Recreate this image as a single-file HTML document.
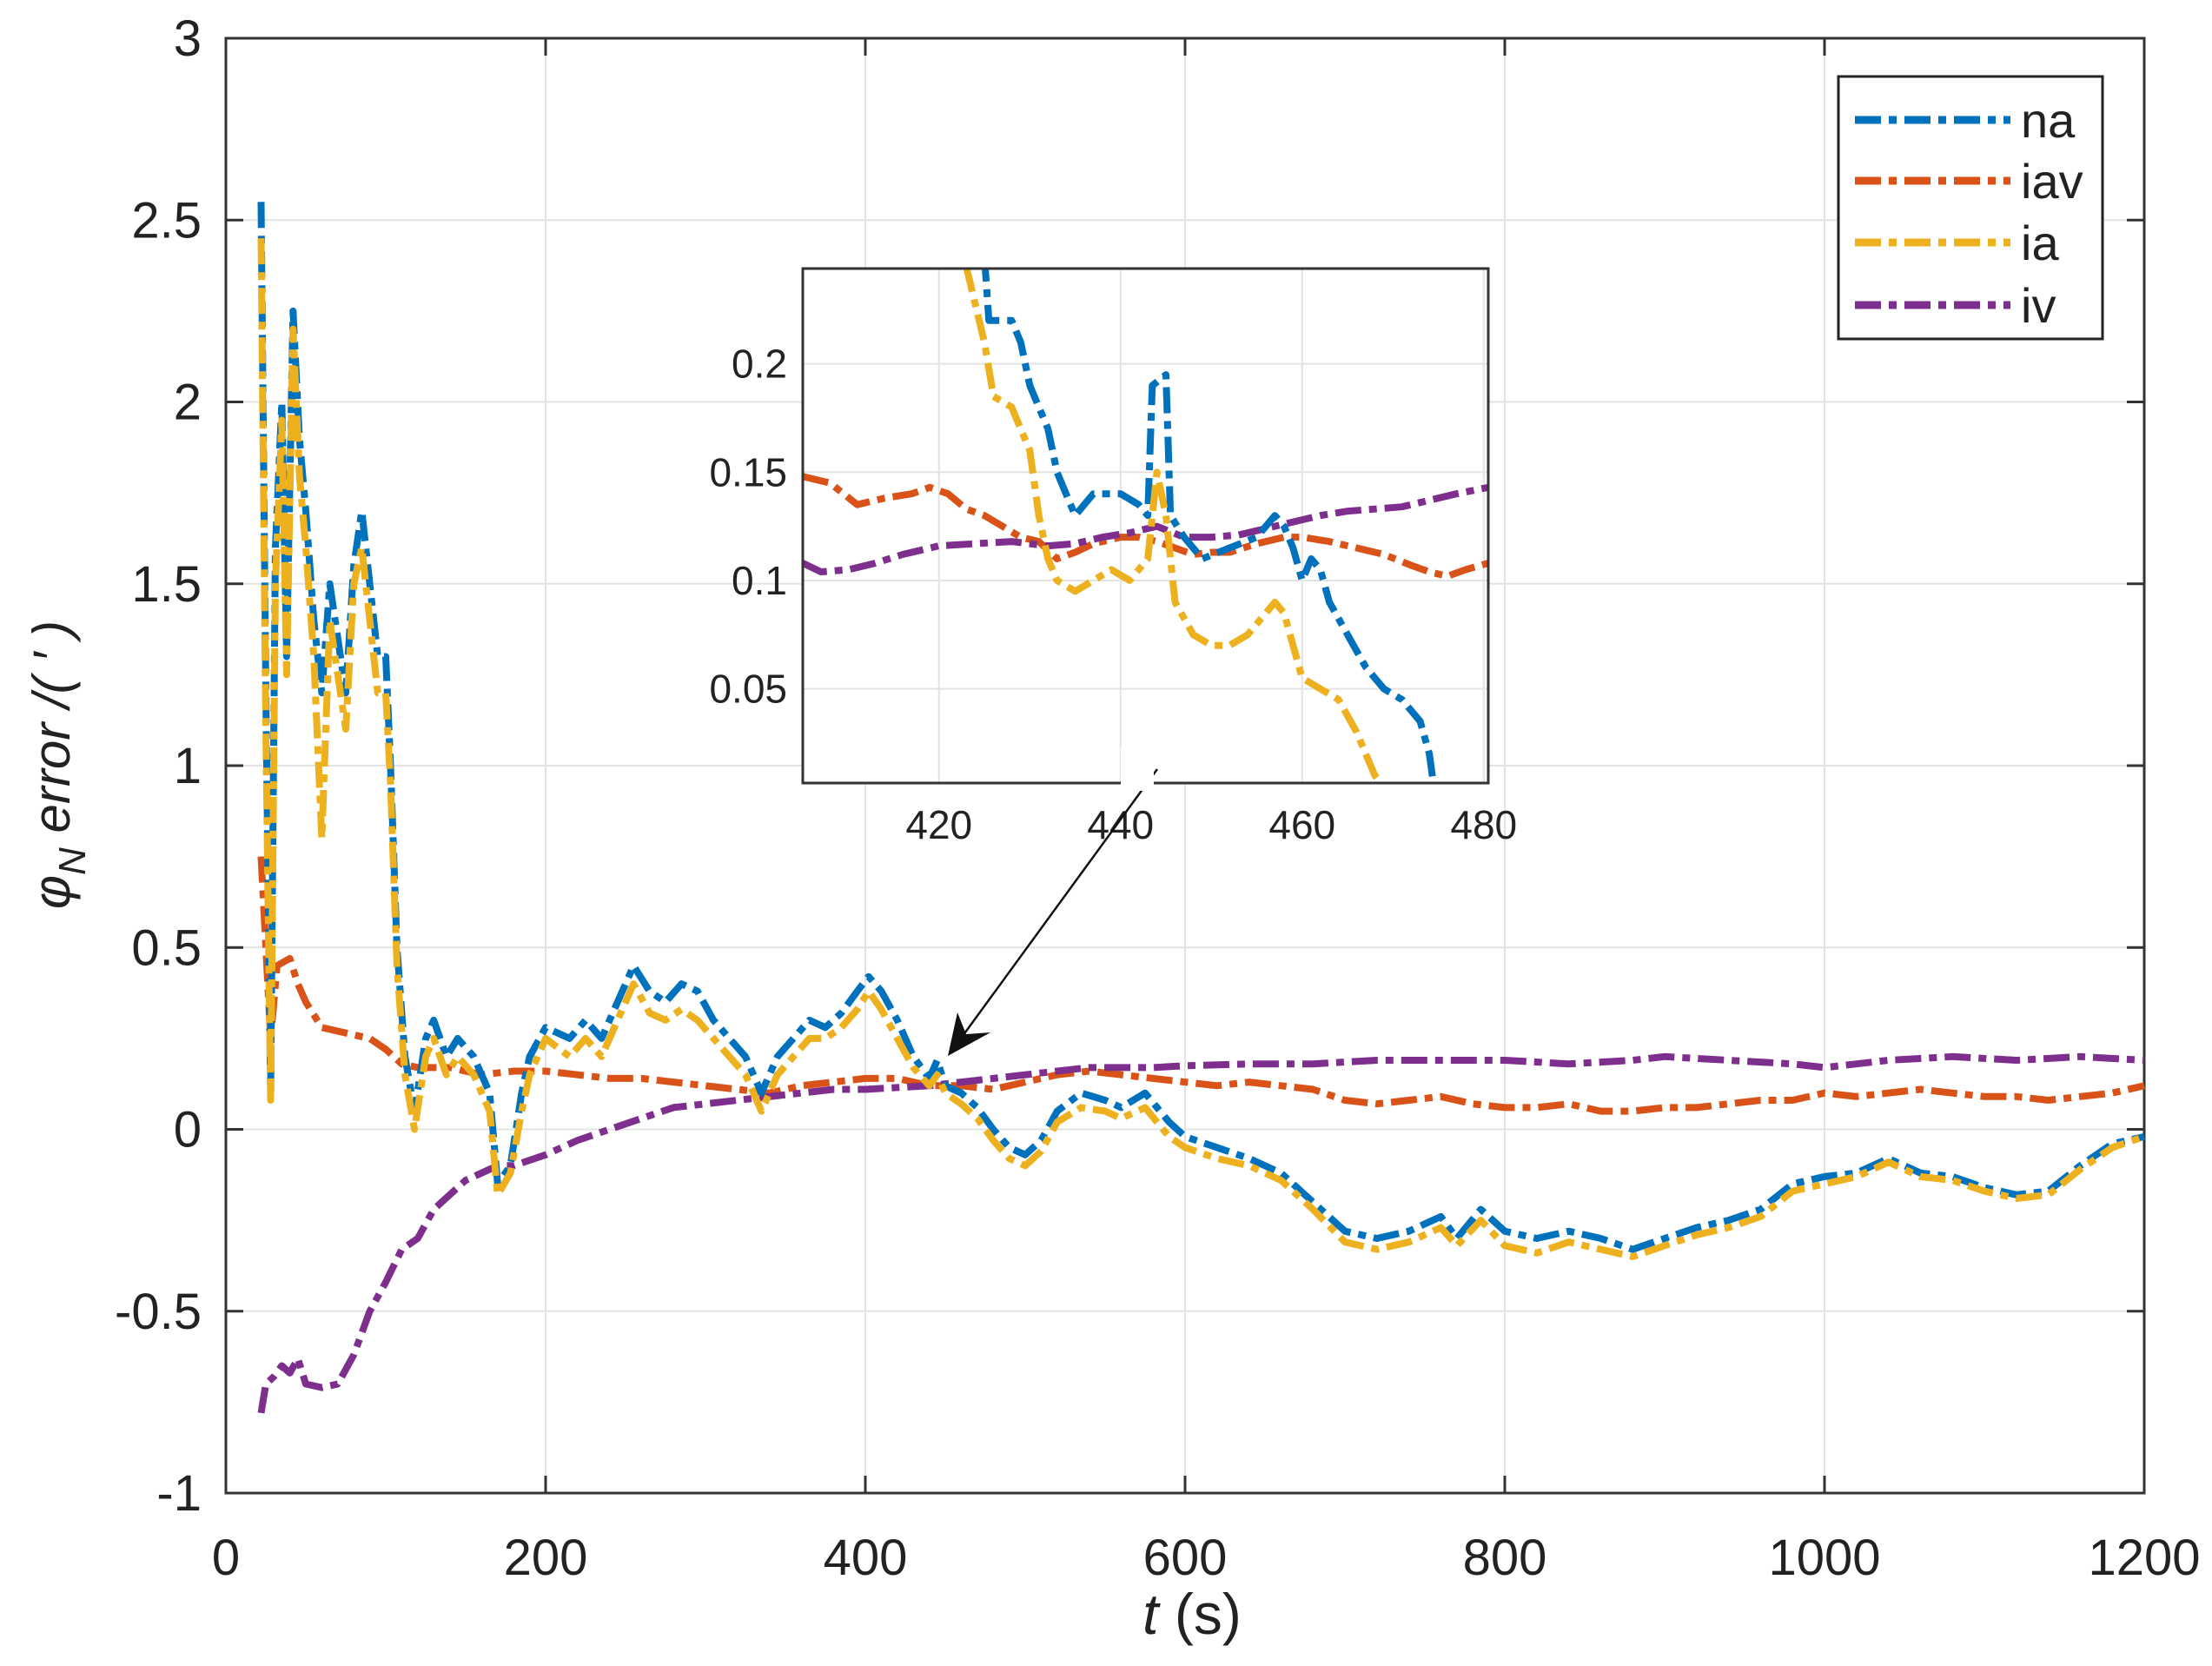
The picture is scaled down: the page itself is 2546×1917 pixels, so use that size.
<!DOCTYPE html>
<html><head><meta charset="utf-8"><style>
html,body{margin:0;padding:0;background:#fff;}
svg{display:block;font-family:"Liberation Sans",sans-serif;}
</style></head><body>
<svg id="chart" width="2546" height="1917" viewBox="0 0 2546 1917" xmlns="http://www.w3.org/2000/svg">
<rect width="2546" height="1917" fill="#fff"/>
<g id="main"></g>
<g id="inset"></g>
<g id="legend"></g>
</svg>
<script>
// ---- main chart data ----
const naT=[22,25,28,31,35,38,42,46,50,55,60,65,70,75,80,85,90,95,100,103,107,112,118,125,130,138,145,155,165,170,178,185,190,200,215,225,235,245,255,265,275,285,295,305,315,325,335,345,355,365,375,385,395,402,410,420,430,440,445,450,460,470,480,490,500,510,520,535,550,560,575,590,600,620,640,660,680,700,720,740,760,770,785,800,820,840,860,880,900,920,940,960,980,1000,1020,1040,1060,1080,1100,1120,1140,1160,1180,1200];
const naV=[2.55,1.2,0.1,1.6,2.0,1.3,2.25,1.9,1.7,1.4,1.2,1.5,1.35,1.2,1.55,1.7,1.5,1.3,1.3,1.0,0.5,0.2,0.05,0.25,0.3,0.2,0.25,0.2,0.1,-0.15,-0.1,0.1,0.2,0.28,0.25,0.3,0.25,0.35,0.45,0.38,0.35,0.4,0.38,0.3,0.25,0.2,0.1,0.2,0.25,0.3,0.28,0.32,0.38,0.42,0.38,0.3,0.2,0.14,0.19,0.12,0.1,0.06,0.0,-0.05,-0.07,-0.03,0.05,0.1,0.08,0.06,0.1,0.02,-0.02,-0.05,-0.08,-0.12,-0.2,-0.28,-0.3,-0.28,-0.24,-0.3,-0.22,-0.28,-0.3,-0.28,-0.3,-0.33,-0.3,-0.27,-0.25,-0.22,-0.15,-0.13,-0.12,-0.08,-0.12,-0.13,-0.16,-0.18,-0.17,-0.1,-0.04,-0.02];
const iaT=naT;
const iaV=[2.45,1.1,0.08,1.5,1.95,1.25,2.2,1.8,1.6,1.3,0.8,1.4,1.25,1.1,1.5,1.6,1.4,1.2,1.2,0.95,0.45,0.15,0.0,0.2,0.25,0.15,0.2,0.15,0.05,-0.18,-0.12,0.05,0.15,0.25,0.2,0.25,0.2,0.3,0.4,0.32,0.3,0.33,0.3,0.25,0.2,0.15,0.05,0.15,0.2,0.25,0.25,0.28,0.33,0.38,0.33,0.25,0.17,0.12,0.15,0.1,0.07,0.03,-0.03,-0.08,-0.1,-0.06,0.02,0.06,0.05,0.03,0.06,-0.02,-0.05,-0.08,-0.1,-0.14,-0.22,-0.31,-0.33,-0.31,-0.27,-0.32,-0.25,-0.32,-0.34,-0.31,-0.33,-0.35,-0.32,-0.29,-0.27,-0.24,-0.17,-0.15,-0.13,-0.09,-0.13,-0.14,-0.17,-0.19,-0.18,-0.11,-0.05,-0.02];
const iavT=[22,25,28,32,40,45,50,60,70,80,90,100,110,120,140,160,180,200,220,240,260,280,300,320,340,360,380,400,420,440,460,480,500,520,540,560,580,600,620,640,660,680,700,720,740,760,780,800,820,840,860,880,900,920,940,960,980,1000,1020,1040,1060,1080,1100,1120,1140,1160,1180,1200];
const iavV=[0.75,0.5,0.25,0.45,0.47,0.4,0.35,0.28,0.27,0.26,0.25,0.22,0.18,0.17,0.17,0.15,0.16,0.16,0.15,0.14,0.14,0.13,0.12,0.11,0.1,0.12,0.13,0.14,0.14,0.12,0.12,0.11,0.13,0.15,0.16,0.15,0.14,0.13,0.12,0.13,0.12,0.11,0.08,0.07,0.08,0.09,0.07,0.06,0.06,0.07,0.05,0.05,0.06,0.06,0.07,0.08,0.08,0.1,0.09,0.1,0.11,0.1,0.09,0.09,0.08,0.09,0.1,0.12];
const ivT=[22,25,30,35,40,45,50,60,70,80,90,100,110,120,130,140,150,160,170,180,200,220,240,260,280,300,320,340,360,380,400,420,440,460,480,500,520,540,560,580,600,640,680,720,760,800,840,880,900,940,980,1000,1040,1080,1120,1160,1200];
const ivV=[-0.78,-0.7,-0.68,-0.65,-0.67,-0.63,-0.7,-0.71,-0.7,-0.62,-0.5,-0.42,-0.33,-0.3,-0.22,-0.18,-0.14,-0.12,-0.1,-0.1,-0.07,-0.03,0.0,0.03,0.06,0.07,0.08,0.09,0.1,0.11,0.11,0.115,0.12,0.13,0.14,0.15,0.16,0.17,0.17,0.17,0.175,0.18,0.18,0.19,0.19,0.19,0.18,0.19,0.2,0.19,0.18,0.17,0.19,0.2,0.19,0.2,0.19];
const xTicks=[0,200,400,600,800,1000,1200];
const yTicks=[-1,-0.5,0,0.5,1,1.5,2,2.5,3];
// ---- inset data ----
const inNaT=[425,425.5,428,429,430,432,433,435,437,440,442,443,443.5,445,445.5,447,449,452,455,457,458,459,460,461,462,463,465,467,469,471,473,474,474.5,476];
const inNaV=[0.25,0.22,0.22,0.21,0.19,0.17,0.15,0.13,0.14,0.14,0.135,0.13,0.19,0.195,0.13,0.12,0.11,0.115,0.12,0.13,0.125,0.115,0.1,0.11,0.105,0.09,0.075,0.06,0.05,0.045,0.035,0.02,0.005,0.0];
const inIaT=[423,425,426,428,430,431,432,433,435,437,439,441,443,444,445,446,448,450,452,454,456,457,458,459,460,462,464,466,467,468,469,470];
const inIaV=[0.245,0.21,0.185,0.18,0.16,0.13,0.11,0.1,0.095,0.1,0.105,0.1,0.11,0.15,0.13,0.09,0.075,0.07,0.07,0.075,0.085,0.09,0.085,0.07,0.055,0.05,0.045,0.03,0.02,0.01,0.005,0.003];
const inIavT=[405,408,411,414,417,419,421,423,425,427,429,431,433,435,437,440,442,444,446,448,450,452,455,458,460,463,466,469,472,474,476,478,480.5];
const inIavV=[0.148,0.145,0.135,0.138,0.14,0.143,0.14,0.133,0.13,0.125,0.12,0.118,0.11,0.113,0.117,0.12,0.12,0.118,0.115,0.112,0.113,0.113,0.117,0.12,0.12,0.118,0.115,0.112,0.107,0.104,0.102,0.105,0.108];
const inIvT=[405,407,410,413,416,420,424,428,432,435,438,441,444,447,450,453,456,459,462,465,468,471,474,477,480.5];
const inIvV=[0.108,0.104,0.105,0.108,0.112,0.116,0.117,0.118,0.116,0.117,0.12,0.122,0.125,0.12,0.12,0.121,0.124,0.127,0.13,0.132,0.133,0.134,0.137,0.14,0.143];
const inXTicks=[420,440,460,480];
const inYTicks=[0.05,0.1,0.15,0.2];
const legendLabels=['na','iav','ia','iv'];

const NS='http://www.w3.org/2000/svg';
const COL={na:'#0072BD',iav:'#D95319',ia:'#EDB120',iv:'#7E2F8E'};
const DASH='30 9 9 9';
function mk(tag,attrs,parent){const e=document.createElementNS(NS,tag);for(const k in attrs)e.setAttribute(k,attrs[k]);parent.appendChild(e);return e;}

const M={l:260,r:2468,t:44,b:1718,x0:0,x1:1200,y0:-1,y1:3};
const X=t=>M.l+(t-M.x0)/(M.x1-M.x0)*(M.r-M.l);
const Y=v=>M.b-(v-M.y0)/(M.y1-M.y0)*(M.b-M.t);
const gm=document.getElementById('main');
xTicks.forEach(t=>{
  const g=mk('line',{x1:X(t),x2:X(t),y1:M.t,y2:M.b,stroke:'#e3e3e3','stroke-width':2},gm);
  
  
  mk('line',{x1:X(t),x2:X(t),y1:M.b,y2:M.b-20,stroke:'#333','stroke-width':3},gm);
  mk('line',{x1:X(t),x2:X(t),y1:M.t,y2:M.t+20,stroke:'#333','stroke-width':3},gm);
  const tx=mk('text',{x:X(t),y:1812,'font-size':58,'text-anchor':'middle',fill:'#222'},gm);
  tx.textContent=t;
  
  
});
yTicks.forEach(v=>{
  const g=mk('line',{x1:M.l,x2:M.r,y1:Y(v),y2:Y(v),stroke:'#e3e3e3','stroke-width':2},gm);
  
  
  mk('line',{x1:M.l,x2:M.l+20,y1:Y(v),y2:Y(v),stroke:'#333','stroke-width':3},gm);
  mk('line',{x1:M.r,x2:M.r-20,y1:Y(v),y2:Y(v),stroke:'#333','stroke-width':3},gm);
  const tx=mk('text',{x:232,y:Y(v)+20,'font-size':58,'text-anchor':'end',fill:'#222'},gm);
  tx.textContent=v;
  
  
});
const frame=mk('rect',{x:M.l,y:M.t,width:M.r-M.l,height:M.b-M.t,fill:'none',stroke:'#333','stroke-width':3},gm);


function series(par,T,V,col,xf,yf,name){
  const d=T.map((t,i)=>(i?'L':'M')+xf(t).toFixed(1)+' '+yf(V[i]).toFixed(1)).join(' ');
  const p=mk('path',{d:d,fill:'none',stroke:col,'stroke-width':8,'stroke-dasharray':DASH,'stroke-linejoin':'round'},par);
  
  
}
series(gm,iavT,iavV,COL.iav,X,Y,'series-iav');
series(gm,ivT,ivV,COL.iv,X,Y,'series-iv');
series(gm,naT,naV,COL.na,X,Y,'series-na');
series(gm,iaT,iaV,COL.ia,X,Y,'series-ia');
const xl=mk('text',{x:1372,y:1880,'font-size':66,'text-anchor':'middle',fill:'#222'},gm);
xl.innerHTML='<tspan font-style="italic">t</tspan> (s)';


const yl=mk('text',{transform:'translate(80,880) rotate(-90)','font-size':60,'text-anchor':'middle',fill:'#222','font-style':'italic'},gm);
yl.innerHTML='φ<tspan font-size="44" dy="18">N</tspan><tspan dy="-18"> error  /( ′ )</tspan>';



const I={l:924,r:1713,t:309,b:901,x0:405,x1:480.5,y0:0.0065,y1:0.244};
const IX=t=>I.l+(t-I.x0)/(I.x1-I.x0)*(I.r-I.l);
const IY=v=>I.b-(v-I.y0)/(I.y1-I.y0)*(I.b-I.t);
const gi=document.getElementById('inset');


mk('rect',{x:I.l,y:I.t,width:I.r-I.l,height:I.b-I.t,fill:'#fff'},gi);
inXTicks.forEach(t=>{
  mk('line',{x1:IX(t),x2:IX(t),y1:I.t,y2:I.b,stroke:'#e3e3e3','stroke-width':2},gi);
  const tx=mk('text',{x:IX(t),y:965,'font-size':46,'text-anchor':'middle',fill:'#222'},gi);
  tx.textContent=t;
  
  
});
inYTicks.forEach(v=>{
  mk('line',{x1:I.l,x2:I.r,y1:IY(v),y2:IY(v),stroke:'#e3e3e3','stroke-width':2},gi);
  const tx=mk('text',{x:906,y:IY(v)+16,'font-size':46,'text-anchor':'end',fill:'#222'},gi);
  tx.textContent=v;
  
  
});
const cp=mk('clipPath',{id:'ic'},gi);mk('rect',{x:I.l,y:I.t,width:I.r-I.l,height:I.b-I.t},cp);
const gic=mk('g',{'clip-path':'url(#ic)'},gi);
series(gic,inIavT,inIavV,COL.iav,IX,IY,'inset-series-iav');
series(gic,inIvT,inIvV,COL.iv,IX,IY,'inset-series-iv');
series(gic,inNaT,inNaV,COL.na,IX,IY,'inset-series-na');
series(gic,inIaT,inIaV,COL.ia,IX,IY,'inset-series-ia');
mk('rect',{x:I.l,y:I.t,width:I.r-I.l,height:I.b-I.t,fill:'none',stroke:'#333','stroke-width':3},gi);
const ar=mk('line',{x1:1332,y1:885,x2:1100,y2:1203,stroke:'#111','stroke-width':2.5},gi);


mk('polygon',{points:'1091,1215 1102,1165 1112,1190 1140,1188',fill:'#111'},gi);
mk('rect',{x:1290,y:860,width:38,height:50,fill:'#fff'},gi);

const gl=document.getElementById('legend');
const lb=mk('rect',{x:2116,y:88,width:304,height:302,fill:'#fff',stroke:'#222','stroke-width':3},gl);


const lys=[138,208,279,351];
legendLabels.forEach((n,i)=>{
  const l=mk('line',{x1:2135,x2:2314,y1:lys[i],y2:lys[i],stroke:COL[n],'stroke-width':9,'stroke-dasharray':DASH},gl);
  
  
  const t=mk('text',{x:2326,y:lys[i]+20,'font-size':56,fill:'#222'},gl);
  t.textContent=n;
  
  
});
</script>
</body></html>
